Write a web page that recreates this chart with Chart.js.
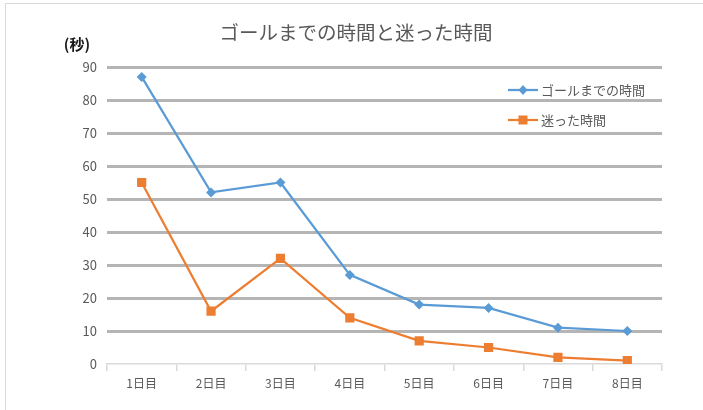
<!DOCTYPE html>
<html>
<head>
<meta charset="utf-8">
<script src="https://cdn.jsdelivr.net/npm/chart.js@4/dist/chart.umd.min.js"></script>
<style>
  html, body { margin: 0; padding: 0; background: #fff; }
  #wrap { width: 703px; height: 410px; position: relative; }
</style>
</head>
<body>
<div id="wrap"><canvas id="goalChart" width="703" height="410"></canvas></div>
<script>
// data
var days = ['1日目', '2日目', '3日目', '4日目', '5日目', '6日目', '7日目', '8日目'];
var goalTime = [87, 52, 55, 27, 18, 17, 11, 10];
var lostTime = [55, 16, 32, 14, 7, 5, 2, 1];
var seriesNames = ['ゴールまでの時間', '迷った時間'];
var chartTitle = 'ゴールまでの時間と迷った時間';
var unitLabel = '(秒)';

var FONT = '"Noto Sans CJK JP", "Noto Sans", sans-serif';
var TEXT = '#595959';

// frame, title, unit label and legend drawn by hand like the office chart
var decorations = {
    id: 'decorations',
    beforeDraw: function (chart) {
        var ctx = chart.ctx;
        ctx.save();
        ctx.strokeStyle = '#d9d9d9';
        ctx.lineWidth = 1;
        ctx.strokeRect(5.5, 3.5, 760, 460);
        ctx.restore();
    },
    afterDatasetsDraw: function (chart) {
        var ctx = chart.ctx;
        var area = chart.chartArea;
        ctx.save();
        // title
        ctx.fillStyle = TEXT;
        ctx.font = '19.5px ' + FONT;
        ctx.textAlign = 'center';
        ctx.textBaseline = 'middle';
        ctx.fillText(chartTitle, 356, 33);

        // unit
        ctx.fillStyle = '#1a1a1a';
        ctx.font = 'bold 15px ' + FONT;
        ctx.fillText(unitLabel, 77, 44);

        // legend
        var x0 = area.right - 154;
        chart.data.datasets.forEach(function (ds, i) {
            var y = area.top + 23 + i * 30;
            ctx.strokeStyle = ds.borderColor;
            ctx.lineWidth = 2.25;
            ctx.beginPath();
            ctx.moveTo(x0, y);
            ctx.lineTo(x0 + 30, y);
            ctx.stroke();
            ctx.fillStyle = ds.backgroundColor;
            var cx = x0 + 15;
            ctx.beginPath();
            if (ds.pointStyle === 'rectRot') {
                ctx.moveTo(cx, y - 5);
                ctx.lineTo(cx + 4.5, y);
                ctx.lineTo(cx, y + 5);
                ctx.lineTo(cx - 4.5, y);
                ctx.closePath();
            } else {
                ctx.rect(cx - 4.5, y - 4.5, 9, 9);
            }
            ctx.fill();
            ctx.fillStyle = TEXT;
            ctx.font = '13px ' + FONT;
            ctx.textAlign = 'left';
            ctx.textBaseline = 'middle';
            ctx.fillText(ds.label, x0 + 33, y);
        });
        ctx.restore();
    }
};

var ctx = document.getElementById('goalChart').getContext('2d');
var myLineChart = new Chart(ctx, {
    type: 'line',
    data: {
        labels: days,
        datasets: [{
            label: seriesNames[0],
            data: goalTime,
            borderColor: '#5B9BD5',
            backgroundColor: '#5B9BD5',
            borderWidth: 2.25,
            pointStyle: 'rectRot',
            pointRadius: 5,
            pointBorderWidth: 0,
            tension: 0
        }, {
            label: seriesNames[1],
            data: lostTime,
            borderColor: '#ED7D31',
            backgroundColor: '#ED7D31',
            borderWidth: 2.25,
            pointStyle: 'rect',
            pointRadius: 6.5,
            pointBorderWidth: 0,
            tension: 0
        }]
    },
    options: {
        responsive: false,
        animation: false,
        events: [],
        layout: { padding: { left: 0, right: 41, top: 67, bottom: 0 } },
        plugins: {
            legend: { display: false },
            tooltip: { enabled: false },
            title: { display: false }
        },
        scales: {
            x: {
                offset: true,
                grid: {
                    offset: true,
                    drawOnChartArea: false,
                    drawTicks: true,
                    tickLength: 7,
                    color: '#d9d9d9',
                    lineWidth: 1.5
                },
                border: { display: true, color: '#d9d9d9', width: 1.5 },
                ticks: {
                    color: TEXT,
                    padding: 5,
                    font: { family: FONT, size: 12 }
                },
                afterFit: function (s) { s.height = 46; }
            },
            y: {
                min: 0,
                max: 90,
                ticks: {
                    stepSize: 10,
                    color: TEXT,
                    padding: 10,
                    font: { family: FONT, size: 13 }
                },
                grid: {
                    drawTicks: false,
                    lineWidth: 3,
                    color: function (c) {
                        return c.tick && c.tick.value === 0 ? 'rgba(0,0,0,0)' : '#b5b5b5';
                    }
                },
                border: { display: false },
                afterFit: function (s) { s.width = 107; }
            }
        }
    },
    plugins: [decorations]
});
</script>
</body>
</html>
